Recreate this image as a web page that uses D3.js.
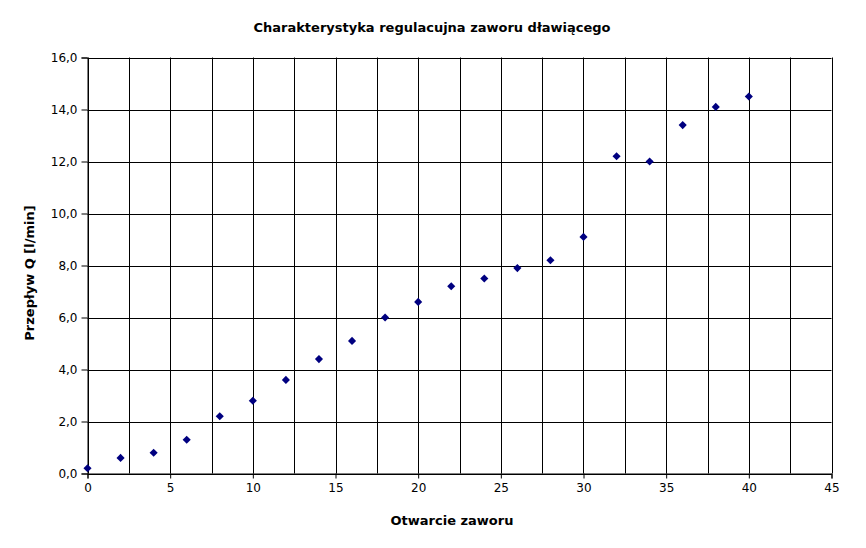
<!DOCTYPE html>
<html><head><meta charset="utf-8">
<script src="https://cdn.jsdelivr.net/npm/d3@7"></script>
<style>body{margin:0;background:#fff}text{font-family:"DejaVu Sans",sans-serif}</style>
</head><body>
<svg id="c" width="866" height="548"></svg>
<script>
const title = "Charakterystyka regulacujna zaworu dławiącego";
const xLabel = "Otwarcie zaworu";
const yLabel = "Przepływ Q [l/min]";
const xValues = [0,2,4,6,8,10,12,14,16,18,20,22,24,26,28,30,32,34,36,38,40];
const yValues = [0.2,0.6,0.8,1.3,2.2,2.8,3.6,4.4,5.1,6.0,6.6,7.2,7.5,7.9,8.2,9.1,12.2,12.0,13.4,14.1,14.5];
const xTicks = [0,5,10,15,20,25,30,35,40,45];
const xGrid = d3.range(0,45.01,2.5);
const yTicks = [0,2,4,6,8,10,12,14,16];

const svg = d3.select("#c");
const L=87.5,R=831.5,T=57.5,B=473.5;
const x = d3.scaleLinear().domain([0,45]).range([L,R]);
const y = d3.scaleLinear().domain([0,16]).range([B,T]);

svg.append("g").selectAll("line").data(xGrid).join("line")
  .attr("x1",d=>Math.round(x(d))+0.5).attr("x2",d=>Math.round(x(d))+0.5)
  .attr("y1",T).attr("y2",B).attr("stroke","#000").attr("stroke-width",1);
svg.append("g").selectAll("line").data(yTicks).join("line")
  .attr("y1",d=>Math.round(y(d))+0.5).attr("y2",d=>Math.round(y(d))+0.5)
  .attr("x1",L).attr("x2",R).attr("stroke","#000").attr("stroke-width",1);

const fmt = d=>d.toFixed(1).replace(".",",");
const yAxis = svg.append("g").attr("transform",`translate(${L},0)`)
  .call(d3.axisLeft(y).tickValues(yTicks).tickFormat(fmt).tickSize(6).tickPadding(4));
const xAxis = svg.append("g").attr("transform",`translate(0,${B})`)
  .call(d3.axisBottom(x).tickValues(xTicks).tickFormat(d=>d).tickSize(5).tickPadding(5));
[yAxis,xAxis].forEach(a=>{
  a.select(".domain").attr("stroke","#000");
  a.selectAll("line").attr("stroke","#000");
  a.selectAll("text").attr("font-size",12).attr("fill","#000").attr("font-family","DejaVu Sans");
});

svg.append("g").selectAll("path").data(xValues.map((v,i)=>[v,yValues[i]])).join("path")
  .attr("d",d3.symbol().type(d3.symbolDiamond2).size(42))
  .attr("transform",d=>`translate(${x(d[0])},${y(d[1])})`)
  .attr("fill","#000080");

svg.append("text").attr("x",432).attr("y",32).attr("text-anchor","middle")
  .attr("font-size",13).attr("font-weight","bold").text(title);
svg.append("text").attr("x",452).attr("y",525).attr("text-anchor","middle")
  .attr("font-size",13).attr("font-weight","bold").text(xLabel);
svg.append("text").attr("transform","translate(34,273) rotate(-90)").attr("text-anchor","middle")
  .attr("font-size",13).attr("font-weight","bold").text(yLabel);
</script>
</body></html>
